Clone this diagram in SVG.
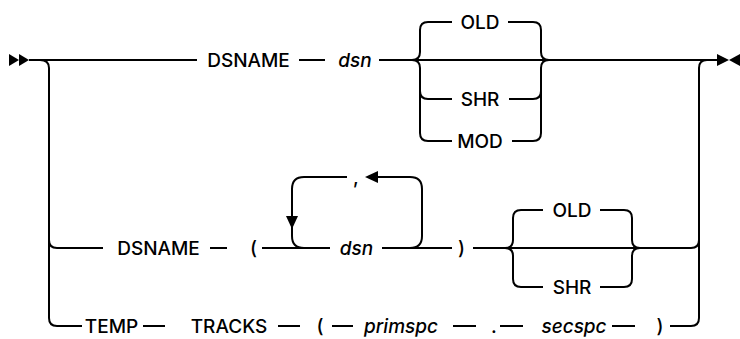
<svg xmlns="http://www.w3.org/2000/svg" width="740" height="339" viewBox="0 0 740 339">
<style>
.ln{fill:none;stroke:#000;stroke-width:2}
.ah{fill:#000}
text{font-family:Inter,"Liberation Sans",Arial,sans-serif;font-size:19px;font-weight:500;fill:#000;text-anchor:middle}
.v{font-style:italic}
</style>
<rect width="740" height="339" fill="#fff"/>
<g id="connectors">
<polygon class="ah" points="9,54 19,60 9,66"/>
<polygon class="ah" points="19,54 29,60 19,66"/>
<polygon class="ah" points="717,54 729,60 717,66"/>
<polygon class="ah" points="740,54 729,60 740,66"/>
<path class="ln" d="M29,60 H197"/>
<path class="ln" d="M299,60 H325"/>
<path class="ln" d="M379,60 H717"/>
<path class="ln" d="M40,60 q9,0 9,8 V318 q0,8 8,8 H82"/>
<path class="ln" d="M49,240 q0,8 8,8 H103"/>
<path class="ln" d="M412,60 q8,0 8,-8 V30 q0,-8 8,-8 H452"/>
<path class="ln" d="M508,22 H533 q8,0 8,8 V52 q0,8 8,8"/>
<path class="ln" d="M412,60 q8,0 8,8 V133 q0,8 8,8 H452"/>
<path class="ln" d="M420,91 q0,8 8,8 H452"/>
<path class="ln" d="M509,99 H533 q8,0 8,-8"/>
<path class="ln" d="M512,141 H533 q8,0 8,-8 V68 q0,-8 8,-8"/>
<path class="ln" d="M210,248 H227"/>
<path class="ln" d="M262,248 H330"/>
<path class="ln" d="M382,248 H452"/>
<path class="ln" d="M473,248 H691 q8,0 8,-8"/>
<path class="ln" d="M304,248 q-12,0 -12,-12 V189 q0,-12 12,-12 H347"/>
<path class="ln" d="M378,177 H410 q12,0 12,12 V236 q0,12 -12,12"/>
<polygon class="ah" points="365,177 378,171 378,183"/>
<polygon class="ah" points="292,229 286,216 298,216"/>
<path class="ln" d="M505,248 q8,0 8,-8 V218 q0,-8 8,-8 H543"/>
<path class="ln" d="M600,210 H624 q8,0 8,8 V240 q0,8 8,8"/>
<path class="ln" d="M505,248 q8,0 8,8 V279 q0,8 8,8 H543"/>
<path class="ln" d="M600,287 H624 q8,0 8,-8 V256 q0,-8 8,-8"/>
<path class="ln" d="M143,326 H165"/>
<path class="ln" d="M278,326 H300"/>
<path class="ln" d="M332,326 H353"/>
<path class="ln" d="M453,326 H476"/>
<path class="ln" d="M500,326 H523"/>
<path class="ln" d="M612,326 H635"/>
<path class="ln" d="M670,326 H691 q8,0 8,-8 V68 q0,-8 8,-8"/>
</g>
<g id="r1-dsname"><text x="248.5" y="66.7">DSNAME</text></g>
<g id="r1-dsn"><text class="v" x="355" y="66.7">dsn</text></g>
<g id="r1-old"><text x="480" y="28.7">OLD</text></g>
<g id="r1-shr"><text x="480" y="105.7">SHR</text></g>
<g id="r1-mod"><text x="480" y="147.7">MOD</text></g>
<g id="r2-dsname"><text x="158.5" y="254.7">DSNAME</text></g>
<g id="r2-lp"><text x="253.5" y="254.7">(</text></g>
<g id="r2-dsn"><text class="v" x="356.5" y="254.7">dsn</text></g>
<g id="r2-comma"><text x="356" y="183.7">,</text></g>
<g id="r2-rp"><text x="461.5" y="254.7">)</text></g>
<g id="r2-old"><text x="572" y="216.7">OLD</text></g>
<g id="r2-shr"><text x="572" y="293.7">SHR</text></g>
<g id="r3-temp"><text x="111.5" y="332.7">TEMP</text></g>
<g id="r3-tracks"><text x="229" y="332.7">TRACKS</text></g>
<g id="r3-lp"><text x="320" y="332.7">(</text></g>
<g id="r3-primspc"><text class="v" x="401" y="332.7">primspc</text></g>
<g id="r3-dot"><text x="494" y="332.7">.</text></g>
<g id="r3-secspc"><text class="v" x="574" y="332.7">secspc</text></g>
<g id="r3-rp"><text x="660" y="332.7">)</text></g>
</svg>
